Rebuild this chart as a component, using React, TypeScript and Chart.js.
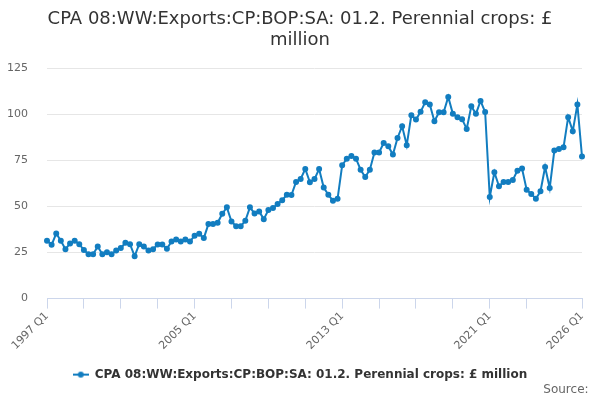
import React, { useEffect, useRef } from "react";
import { Chart, registerables } from "chart.js";

Chart.register(...registerables);

const titleLines = ["CPA 08:WW:Exports:CP:BOP:SA: 01.2. Perennial crops: £", "million"];
const seriesName = "CPA 08:WW:Exports:CP:BOP:SA: 01.2. Perennial crops: £ million";
const sourceText = "Source:";

const quarters: string[] = [];
for (let y = 1997; y <= 2026; y++) {
  for (let q = 1; q <= 4; q++) {
    if (y === 2026 && q > 1) break;
    quarters.push(`${y} Q${q}`);
  }
}

const values = [
  31.4, 29.2, 35.3, 31.4, 26.8, 29.9, 31.4, 29.5, 26.3, 24.1,
  24.1, 28.3, 24.1, 25.2, 24.1, 26.1, 27.4, 30.3, 29.5, 23.0,
  29.5, 28.3, 26.1, 26.8, 29.3, 29.3, 27.0, 31.0, 32.1, 31.0,
  32.0, 31.0, 34.1, 35.2, 32.8, 40.4, 40.4, 41.1, 46.0, 49.5,
  41.8, 39.3, 39.3, 42.2, 49.5, 46.2, 47.3, 43.1, 48.0, 49.1,
  51.3, 53.4, 56.3, 56.2, 63.3, 64.9, 70.3, 63.1, 64.8, 70.3,
  60.2, 56.3, 53.1, 54.1, 72.3, 75.9, 77.3, 75.9, 69.9, 65.9,
  69.9, 79.3, 79.3, 84.4, 82.6, 78.1, 87.1, 93.5, 83.2, 99.5,
  97.1, 101.3, 106.5, 105.3, 96.2, 101.1, 101.1, 109.4, 100.2, 98.4,
  97.3, 92.0, 104.3, 100.2, 107.2, 101.2, 55.1, 68.5, 60.9, 63.2,
  63.2, 64.3, 69.4, 70.5, 59.1, 56.7, 54.2, 58.2, 71.4, 60.0,
  80.3, 81.2, 82.1, 98.4, 90.8, 105.3, 77.0,
];

const tickQuarters = [
  "1997 Q1", "1999 Q1", "2001 Q1", "2003 Q1", "2005 Q1", "2007 Q1", "2009 Q1",
  "2011 Q1", "2013 Q1", "2015 Q1", "2017 Q1", "2019 Q1", "2021 Q1", "2023 Q1", "2026 Q1",
];
const labelledQuarters = ["1997 Q1", "2005 Q1", "2013 Q1", "2021 Q1", "2026 Q1"];

const yTicks = [0, 25, 50, 75, 100, 125];

const LINE_COLOR = "#127dc0";
const FONT = "'DejaVu Sans', Verdana, sans-serif";

export default function App() {
  const ref = useRef<HTMLCanvasElement | null>(null);

  useEffect(() => {
    if (!ref.current) return;
    const marker = document.createElement("canvas");
    marker.width = 16;
    marker.height = 8;
    const mctx = marker.getContext("2d");
    if (mctx) {
      mctx.strokeStyle = LINE_COLOR;
      mctx.lineWidth = 2;
      mctx.beginPath();
      mctx.moveTo(0, 4);
      mctx.lineTo(16, 4);
      mctx.stroke();
      mctx.fillStyle = LINE_COLOR;
      mctx.beginPath();
      mctx.arc(8, 4, 3, 0, Math.PI * 2);
      mctx.fill();
    }

    const chart = new Chart(ref.current, {
      type: "line",
      data: {
        labels: quarters,
        datasets: [
          {
            label: seriesName,
            data: values,
            borderColor: LINE_COLOR,
            backgroundColor: LINE_COLOR,
            borderWidth: 2,
            pointRadius: 2,
            pointHoverRadius: 3,
            pointStyle: "circle",
            tension: 0,
          } as any,
        ],
      },
      options: {
        animation: false,
        responsive: true,
        maintainAspectRatio: false,
        layout: { padding: { left: 0, right: 0, top: 9, bottom: 3 } },
        scales: {
          x: {
            type: "category",
            offset: false,
            grid: {
              display: true,
              drawOnChartArea: false,
              drawTicks: true,
              tickLength: 10,
              color: "#ccd6eb",
            },
            border: { display: true, color: "#ccd6eb", width: 1 },
            afterBuildTicks: (scale: any) => {
              scale.ticks = tickQuarters.map((l) => ({ value: quarters.indexOf(l) }));
            },
            afterFit: (scale: any) => {
              scale.paddingLeft = 0;
              scale.paddingRight = 18;
              scale.height = 67;
            },
            ticks: {
              autoSkip: false,
              maxRotation: 45,
              minRotation: 45,
              color: "#666666",
              font: { family: FONT, size: 11 },
              padding: 1,
              callback: (value: any) => {
                const l = quarters[value as number];
                return labelledQuarters.includes(l) ? l : "";
              },
            },
          },
          y: {
            min: 0,
            max: 125,
            afterBuildTicks: (scale: any) => {
              scale.ticks = yTicks.map((v) => ({ value: v }));
            },
            afterFit: (scale: any) => {
              scale.width = 47;
            },
            grid: { color: "#e6e6e6", drawTicks: false, lineWidth: 1 },
            border: { display: false },
            ticks: {
              color: "#666666",
              font: { family: FONT, size: 11 },
              padding: 19,
            },
          },
        },
        plugins: {
          title: {
            display: true,
            text: titleLines,
            color: "#333333",
            font: { family: FONT, size: 18, weight: "normal", lineHeight: 1.17 },
            padding: { top: 0, bottom: 17 },
          },
          subtitle: {
            display: true,
            text: sourceText + "\u00a0\u00a0\u00a0",
            position: "bottom",
            align: "end",
            color: "#666666",
            font: { family: FONT, size: 12, weight: "normal" },
            padding: { top: -8, bottom: 0 },
          },
          legend: {
            display: true,
            position: "bottom",
            labels: {
              usePointStyle: true,
              pointStyleWidth: 16,
              color: "#333333",
              font: { family: FONT, size: 12, weight: "bold" },
              padding: 3,
              generateLabels: (c: any) =>
                c.data.datasets.map((ds: any, i: number) => ({
                  text: ds.label,
                  pointStyle: marker,
                  fillStyle: LINE_COLOR,
                  strokeStyle: LINE_COLOR,
                  lineWidth: 0,
                  hidden: false,
                  datasetIndex: i,
                  fontColor: "#333333",
                })),
            },
          },
          tooltip: { enabled: false },
        },
      } as any,
    });
    return () => chart.destroy();
  }, []);

  return (
    <div style={{ position: "absolute", left: 0, top: 0, width: 600, height: 400, background: "#fff" }}>
      <canvas ref={ref} />
    </div>
  );
}
